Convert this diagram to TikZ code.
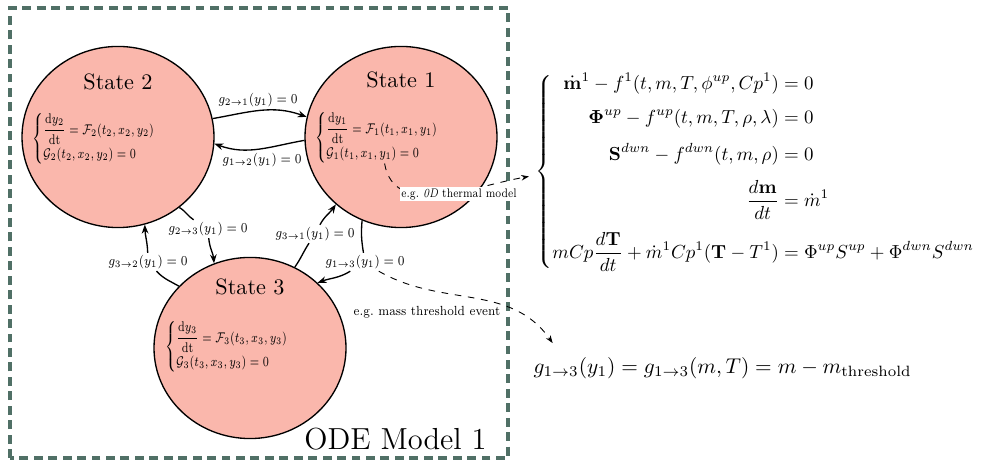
\documentclass[tikz,border=0pt]{standalone}
\usepackage{amsmath}
\usepackage{xcolor}
\usepackage{tikz}
\usetikzlibrary{positioning, shapes.geometric, arrows.meta, calc}

\definecolor{statefill}{RGB}{250,183,172}
\definecolor{framegreen}{RGB}{80,112,102}

\begin{document}
\begin{tikzpicture}[
  x=0.45pt, y=0.45pt,
  every node/.style={font=\scriptsize},
  state/.style={ellipse, fill=statefill, draw=black, semithick,
                minimum width=86.4pt, minimum height=81.5pt, inner sep=0pt},
  title/.style={font=\normalsize},
  eqn/.style={anchor=west, inner sep=0pt, font=\scriptsize, xscale=0.69, yscale=0.9},
  glabel/.style={font=\scriptsize, xscale=0.76, yscale=0.88, inner sep=1pt},
  trans/.style={-{Stealth[length=4pt, width=3pt]}, semithick},
  hint/.style={-{Stealth[length=3.5pt, width=2.5pt]}, dashed, thin},
  note/.style={font=\scriptsize, xscale=0.75, yscale=0.85, inner sep=1pt},
]
\useasboundingbox (0,0) rectangle (992,462);

% model frame
\draw[framegreen, line width=1.5pt, dash pattern=on 4pt off 2.5pt] (10,4) rectangle (508,454);
\node[anchor=base east, inner sep=0pt, font=\fontsize{13.7}{16}\selectfont] (mname) at (487,12) {ODE Model 1};

% states
\node[state] (s2) at (118,325) {};
\node[state] (s1) at (401,325) {};
\node[state] (s3) at (250,114) {};

\node[title] (t2) at (118,380) {State 2};
\node[title] (t1) at (401,382) {State 1};
\node[title] (t3) at (250,175) {State 3};

\node[eqn] (e2) at (32,323)
  {$\begin{cases}\dfrac{\mathrm{d}y_2}{\mathrm{dt}} = \mathcal{F}_2(t_2,x_2,y_2)\\[2pt] \mathcal{G}_2(t_2,x_2,y_2) = 0\end{cases}$};
\node[eqn] (e1) at (315,324)
  {$\begin{cases}\dfrac{\mathrm{d}y_1}{\mathrm{dt}} = \mathcal{F}_1(t_1,x_1,y_1)\\[2pt] \mathcal{G}_1(t_1,x_1,y_1) = 0\end{cases}$};
\node[eqn] (e3) at (165,115)
  {$\begin{cases}\dfrac{\mathrm{d}y_3}{\mathrm{dt}} = \mathcal{F}_3(t_3,x_3,y_3)\\[2pt] \mathcal{G}_3(t_3,x_3,y_3) = 0\end{cases}$};

% transition labels
\node[glabel] (l21) at (258,362) {$g_{2\rightarrow1}(y_1) = 0$};
\node[glabel] (l12) at (262,302) {$g_{1\rightarrow2}(y_1) = 0$};
\node[glabel] (l23) at (208,233) {$g_{2\rightarrow3}(y_1) = 0$};
\node[glabel] (l32) at (148,200) {$g_{3\rightarrow2}(y_1) = 0$};
\node[glabel] (l31) at (315,228) {$g_{3\rightarrow1}(y_1) = 0$};
\node[glabel] (l13) at (365,200) {$g_{1\rightarrow3}(y_1) = 0$};

% transitions
\draw[trans] (s2.11) to[out=10, in=160] (s1.168);
\draw[trans] (s1.182) to[out=190, in=-20] (s2.-4);
\draw[trans] (s2.-49) to[out=-30, in=150] (l23) to[out=-85, in=95] (s3.113);
\draw[trans] (s3.139) to[out=150, in=-45] (l32) to[out=92, in=-88] (s2.-73);
\draw[trans] (s3.61) to[out=55, in=-125] (l31) to[out=60, in=-125] (s1.-134);
\draw[trans] (s1.-115) to[out=-95, in=100] (l13) to[out=-150, in=20] (s3.44);

% model equations
\node[anchor=west, font=\normalsize, scale=0.85] (sys) at (529,290)
  {\setlength{\jot}{6pt}$\left\{\begin{aligned}
    \dot{\mathbf{m}}^1 - f^1(t,m,T,\phi^{up},Cp^1) &= 0\\
    \mathbf{\Phi}^{up} - f^{up}(t,m,T,\rho,\lambda) &= 0\\
    \mathbf{S}^{dwn} - f^{dwn}(t,m,\rho) &= 0\\
    \frac{d\mathbf{m}}{dt} &= \dot{m}^1\\
    mCp\frac{d\mathbf{T}}{dt} + \dot{m}^1Cp^1(\mathbf{T} - T^1) &= \Phi^{up}S^{up} + \Phi^{dwn}S^{dwn}
  \end{aligned}\right.$};
\node[anchor=west, font=\normalsize, scale=0.96] (geq) at (526,94)
  {$g_{1\rightarrow3}(y_1) = g_{1\rightarrow3}(m,T) = m - m_{\text{threshold}}$};

% hints
\draw[hint] ([xshift=1pt]e1.south) to[out=-80, in=190] ([yshift=-2pt]sys.west);
\node[font=\scriptsize, xscale=0.66, yscale=0.8, inner sep=1pt, fill=white] (n1) at (459,268)
  {e.g.\ \textit{0D} thermal model};
\draw[hint] (l13.-30) to[out=-30, in=125] ([xshift=12pt, yshift=3pt]geq.north west);
\node[note] (n2) at (427,150) {e.g.\ mass threshold event};
\end{tikzpicture}
\end{document}
